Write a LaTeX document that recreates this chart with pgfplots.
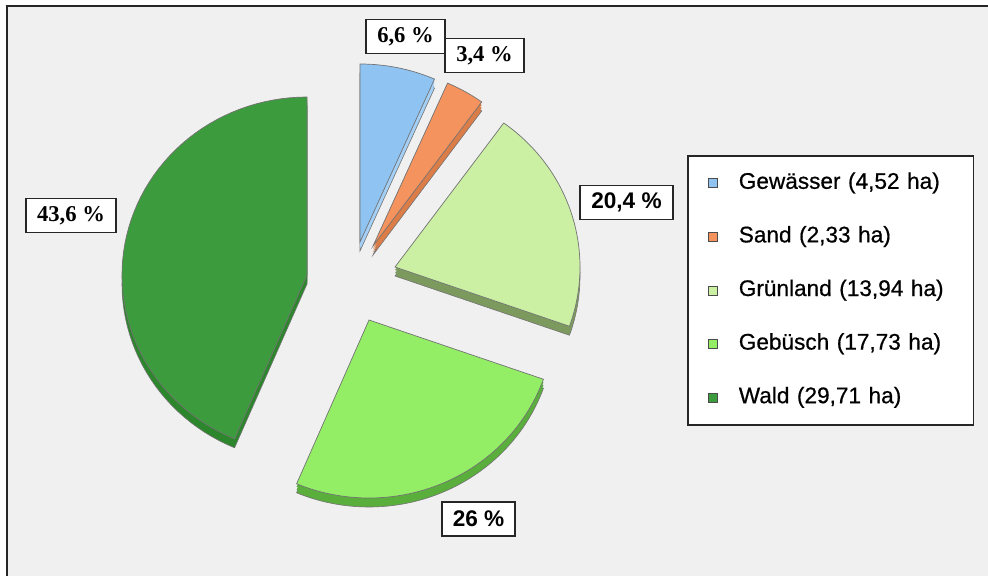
\documentclass[border=0pt]{standalone}
\usepackage{fontspec}
\setmainfont{Liberation Sans}
\newfontfamily\lblserif{Liberation Serif}
\newfontfamily\legfont{Liberation Sans}[FakeBold=0.6]
\usepackage{pgfplots}
\pgfplotsset{compat=1.18}

\definecolor{bgray}{HTML}{F0F0F0}
\definecolor{gewT}{HTML}{8EC3F2}\definecolor{gewS}{HTML}{A4CFF6}
\definecolor{sanT}{HTML}{F4935E}\definecolor{sanS}{HTML}{DC7D48}
\definecolor{gruT}{HTML}{CBF0A3}\definecolor{gruS}{HTML}{7D9A5E}
\definecolor{gebT}{HTML}{93EE66}\definecolor{gebS}{HTML}{5AAE3C}
\definecolor{walT}{HTML}{3C9B3C}\definecolor{walS}{HTML}{2C862C}

% shares in percent (Gewässer, Sand, Grünland, Gebüsch, Wald)
\def\pGew{6.6}\def\pSan{3.4}\def\pGru{20.4}\def\pGeb{26}\def\pWal{43.6}
\pgfmathsetmacro\aA{90}
\pgfmathsetmacro\aB{\aA-3.6*\pGew}
\pgfmathsetmacro\aC{\aB-3.6*\pSan}
\pgfmathsetmacro\aD{\aC-3.6*\pGru}
\pgfmathsetmacro\aE{\aD-3.6*\pGeb}
\pgfmathsetmacro\aF{\aE-3.6*\pWal}

% #1,#2 tip (exploded centre), #3 start angle, #4 end angle, #5 top colour, #6 side colour
\newcommand{\slice}[6]{%
 \addplot[forget plot, fill=#6, draw=black!55, line width=0.3pt, domain=#3:#4, samples=60, variable=\t]
   ({#1+185*cos(t)},{#2-9+178*sin(t)}) -- (axis cs:#1,#2-9) -- cycle;
 \addplot[forget plot, fill=#6, draw=none, domain=#3:#4, samples=60, variable=\t]
   ({#1+185*cos(t)},{#2-6+178*sin(t)}) -- (axis cs:#1,#2-6) -- cycle;
 \addplot[forget plot, fill=#6, draw=none, domain=#3:#4, samples=60, variable=\t]
   ({#1+185*cos(t)},{#2-3+178*sin(t)}) -- (axis cs:#1,#2-3) -- cycle;
 \addplot[fill=#5, draw=black!55, line width=0.35pt, domain=#3:#4, samples=60, variable=\t]
   ({#1+185*cos(t)},{#2+178*sin(t)}) -- (axis cs:#1,#2) -- cycle;
}

\begin{document}
\begin{tikzpicture}
\useasboundingbox (0,0) rectangle (494pt,287.5pt);
\fill[white] (-5pt,-5pt) rectangle (500pt,295pt);
\fill[bgray] (3pt,-5pt) rectangle (500pt,285pt);
\draw[black!85, line width=1pt] (3.25pt,-5pt) -- (3.25pt,284.75pt);
\draw[black!85, line width=1pt] (2.75pt,284.75pt) -- (500pt,284.75pt);
\begin{axis}[
  at={(0,0)}, anchor=south west,
  scale only axis, width=494pt, height=287.5pt,
  xmin=0, xmax=988, ymin=0, ymax=575,
  hide axis, clip=false,
  legend image code/.code={\draw[#1, draw=black!70, line width=0.5pt] (0pt,-2.25pt) rectangle (4.5pt,2.25pt);},
  legend style={
    at={(axis cs:687,420)}, anchor=north west,
    draw=black!85, line width=0.8pt, fill=white,
    inner xsep=10.25pt, inner ysep=8.5pt,
    row sep=16.3pt,
    font=\fontsize{11.3}{13}\selectfont\legfont,
    nodes={inner sep=0pt, text height=8pt, text depth=2.5pt},
    /tikz/every odd column/.append style={column sep=10.25pt},
    /tikz/every even column/.append style={text width=107pt},
    cells={anchor=west},
  },
]
\slice{360}{333}{\aB}{\aA}{gewT}{gewS}
\addlegendentry{Gewässer (4,52 ha)}
\slice{373}{329}{\aC}{\aB}{sanT}{sanS}
\addlegendentry{Sand (2,33 ha)}
\slice{395}{308}{\aD}{\aC}{gruT}{gruS}
\addlegendentry{Grünland (13,94 ha)}
\slice{369}{255}{\aE}{\aD}{gebT}{gebS}
\addlegendentry{Gebüsch (17,73 ha)}
\slice{307}{300}{\aF}{\aE}{walT}{walS}
\addlegendentry{Wald (29,71 ha)}

\tikzset{lbl/.style={draw=black!85, line width=0.9pt, fill=white, inner xsep=5.5pt, minimum height=17pt, font=\fontsize{11.3}{13}\selectfont\bfseries}}
\node[lbl, font=\fontsize{11.3}{13}\selectfont\bfseries\lblserif] at (axis cs:405.5,538.5) {6,6 \%};
\node[lbl, font=\fontsize{11.3}{13}\selectfont\bfseries\lblserif] at (axis cs:484.5,519.5) {3,4 \%};
\node[lbl] at (axis cs:626.5,372.5) {20,4 \%};
\node[lbl] at (axis cs:478.5,56) {26 \%};
\node[lbl, font=\fontsize{11.3}{13}\selectfont\bfseries\lblserif] at (axis cs:71,359.5) {43,6 \%};
\end{axis}
\end{tikzpicture}
\end{document}
